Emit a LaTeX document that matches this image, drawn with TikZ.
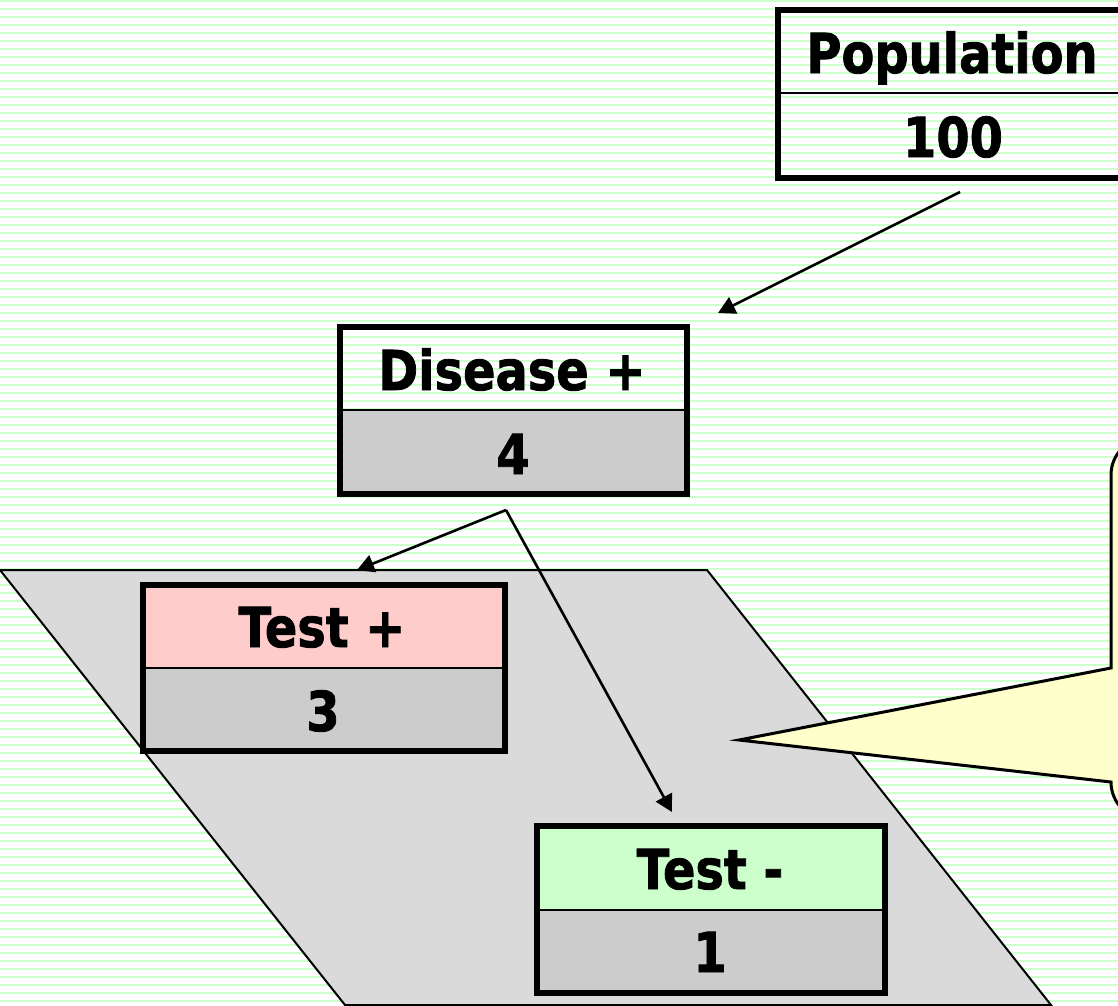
\documentclass[tikz,border=0pt]{standalone}
\usepackage{fontspec}
\setmainfont{DejaVu Sans}
\newfontfamily\heavyfont{DejaVu Sans Bold}[FakeBold=1.6]
\usetikzlibrary{arrows.meta}
\definecolor{stripegreen}{HTML}{CCFFCC}
\definecolor{planegray}{HTML}{DADADA}
\definecolor{cellgray}{HTML}{CCCCCC}
\definecolor{cellpink}{HTML}{FFCCCC}
\definecolor{cellgreen}{HTML}{CCFFCC}
\definecolor{calloutyellow}{HTML}{FFFFCC}
\tikzset{
  frame/.style={draw=black, line width=6pt, inner sep=0pt, fill=none},
  divider/.style={draw=black, line width=2.2pt},
  lbl/.style={inner sep=0pt, anchor=base, font=\heavyfont\fontsize{55}{60}\selectfont},
  conn/.style={draw=black, line width=2.6pt, -{Triangle[length=17pt,width=18pt]}},
  plane/.style={draw=black, line width=2pt, fill=planegray},
  callout/.style={draw=black, line width=3pt, fill=calloutyellow},
}
\newcommand{\sq}[1]{\scalebox{0.87}[1]{#1}}
\begin{document}
\begin{tikzpicture}[x=1pt,y=-1pt]
\useasboundingbox (0,0) rectangle (1118,1005);
\clip (0,0) rectangle (1118,1005);
% striped background
\foreach \i in {0,...,125} {
  \fill[stripegreen] (0,8*\i) rectangle (1118,8*\i+2);
}
% grey plane
\path[plane] (0,570) -- (707,570) -- (1051,1005) -- (345,1005) -- cycle;
% callout
\path[callout] (1111,475) arc (180:270:38) -- (1240,437) -- (1240,820) -- (1149,820)
  arc (90:180:38) -- (739,740) -- (1111,668) -- cycle;
% Population box
\draw[divider] (778,93) -- (1124,93);
\node[frame, minimum width=346pt, minimum height=168pt] (pop) at (951,94) {};
\node[lbl] (poplbl) at (952,73) {\sq{Population}};
\node[lbl] (popnum) at (953,157) {\sq{100}};
% Disease + box
\fill[cellgray] (340,410) rectangle (687,494);
\draw[divider] (340,410) -- (687,410);
\node[frame, minimum width=347pt, minimum height=167pt] (dis) at (513.5,410.5) {};
\node[lbl] (dislbl) at (512,390) {\sq{Disease +}};
\node[lbl] (disnum) at (513,474) {\sq{4}};
% Test + box
\fill[cellpink] (143,585) rectangle (505,668);
\fill[cellgray] (143,668) rectangle (505,751);
\draw[divider] (143,668) -- (505,668);
\node[frame, minimum width=362pt, minimum height=166pt] (tp) at (324,668) {};
\node[lbl] (tplbl) at (322,647) {\sq{Test +}};
\node[lbl] (tpnum) at (323,731) {\sq{3}};
% Test - box
\fill[cellgreen] (537,826) rectangle (885,910);
\fill[cellgray] (537,910) rectangle (885,993);
\draw[divider] (537,910) -- (885,910);
\node[frame, minimum width=348pt, minimum height=167pt] (tm) at (711,909.5) {};
\node[lbl] (tmlbl) at (710,889) {\sq{Test -}};
\node[lbl] (tmnum) at (710,972) {\sq{1}};
% connectors
\coordinate (popout) at (960,192);
\coordinate (disin) at (718,313);
\coordinate (disout) at (506,510);
\coordinate (tpin) at (357,570);
\coordinate (tmin) at (672,812);
\draw[conn] (popout) -- (disin);
\draw[conn] (disout) -- (tpin);
\draw[conn] (disout) -- (tmin);
\end{tikzpicture}
\end{document}
